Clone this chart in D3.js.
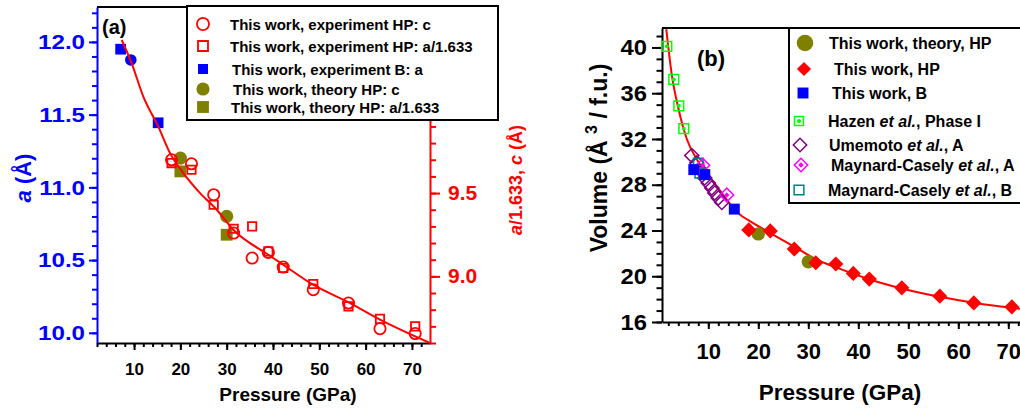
<!DOCTYPE html>
<html>
<head>
<meta charset="utf-8">
<script src="https://cdn.jsdelivr.net/npm/d3@7"></script>
<style>
  body { margin: 0; background: #fff; }
  svg { display: block; font-family: "Liberation Sans", Arial, sans-serif; font-weight: bold; }
</style>
</head>
<body>
<svg id="chart" width="1020" height="411"></svg>
<script>
// ---- panel (a): lattice parameters vs pressure ----
const hpPressure = [18.1, 22.4, 27.2, 31.5, 35.5, 39.0, 42.2, 48.7, 56.3, 63.1, 70.7];
const hpC = [9.70, 9.676, 9.49, 9.26, 9.11, 9.144, 9.056, 8.92, 8.84, 8.686, 8.657];
const hpA1633 = [9.68, 9.64, 9.43, 9.286, 9.30, 9.15, 9.05, 8.954, 8.82, 8.745, 8.70];
const bSquarePressure = [7.1, 15.2];
const bSquareA = [11.95, 11.444];
const bCirclePressure = [9.3];
const bCircleA = [11.876];
const theoryPressure = [20, 30];
const theoryC = [9.71, 9.36];
const theoryA1633 = [9.63, 9.25];
const fitAPressure = [7.33, 9.49, 12.0, 15.24, 17.77, 20.64, 24.25, 27.85, 31.44, 39.0, 42.2, 48.65, 56.64, 63.12, 73.9];
const fitAValue = [10.419, 10.279, 10.079, 9.899, 9.74, 9.62, 9.50, 9.40, 9.28, 9.13, 9.07, 8.95, 8.84, 8.74, 8.60];

const aLeftTicks = [10.0, 10.5, 11.0, 11.5, 12.0];
const aRightTicks = [9.0, 9.5, 10.0, 10.5];
const pressureTicks = [10, 20, 30, 40, 50, 60, 70];
const legendALabels = [
  "This work, experiment HP: c",
  "This work, experiment HP: a/1.633",
  "This work, experiment B: a",
  "This work, theory HP: c",
  "This work, theory HP: a/1.633"
];

// ---- panel (b): volume vs pressure ----
const hpVolume = [24.05, 23.96, 22.38, 21.18, 21.07, 20.25, 19.75, 18.99, 18.26, 17.67, 17.32];
const bPressure = [7.1, 9.3, 15.2];
const bVolume = [29.32, 28.88, 25.87];
const theoryVolume = [23.7, 21.27];
const hazenPressure = [1.7, 3.1, 4.1, 5.1];
const hazenVolume = [40.1, 37.2, 34.9, 32.9];
const umemotoPressure = [6.7, 7.7, 8.7, 9.3, 10.0, 10.7, 11.3, 12.0, 12.7];
const umemotoVolume = [30.55, 29.9, 29.17, 28.59, 28.15, 27.71, 27.27, 26.83, 26.45];
const mcAPressure = [8.9, 13.7];
const mcAVolume = [29.7, 27.1];
const mcBPressure = [8.0, 8.3];
const mcBVolume = [29.9, 29.0];
const fitBPressure = [1.6, 2.7, 4.0, 5.7, 8.0, 11.7, 16.3, 18.0, 22.3, 27.3, 31.7, 35.7, 42.3, 48.7, 56.3, 63.3, 73.1];
const fitBVolume = [41.6, 37.6, 34.7, 32.0, 30.0, 27.85, 25.4, 24.9, 23.8, 22.55, 21.45, 20.75, 19.72, 18.93, 18.2, 17.67, 17.12];

const volumeTicks = [16, 20, 24, 28, 32, 36, 40];
const legendBLabels = [
  ["This work, theory, HP"],
  ["This work, HP"],
  ["This work, B"],
  ["Hazen ", "et al.", ", Phase I"],
  ["Umemoto ", "et al.", ", A"],
  ["Maynard-Casely ", "et al.", ", A"],
  ["Maynard-Casely ", "et al.", ", B"]
];

const RED = "#ff0000", BLUE = "#0000ff", OLIVE = "#808000";

const svg = d3.select("#chart");
svg.append("rect").attr("width", 1020).attr("height", 411).attr("fill", "#fff");

const xA = d3.scaleLinear().domain([2, 73.9]).range([97, 430]);
const yAL = d3.scaleLinear().domain([9.93, 12.24]).range([343, 7]);
const yAR = d3.scaleLinear().domain([8.6, 10.617]).range([343, 7]);
const xB = d3.scaleLinear().domain([0.74, 73.14]).range([662, 1024]);
const yB = d3.scaleLinear().domain([16, 41.7]).range([322, 28]);

// the original tick digits are drawn a bit wider than Arial
const styleAxis = (g, color, size, sx = 1) => {
  g.attr("font-family", null).attr("font-size", size);
  g.select(".domain").attr("stroke", color).attr("stroke-width", 2);
  g.selectAll(".tick line").attr("stroke", color).attr("stroke-width", 2);
  g.selectAll(".tick text").attr("fill", color).attr("font-weight", "bold");
  if (sx !== 1) {
    g.selectAll(".tick text")
      .attr("x", function () { return +d3.select(this).attr("x") / sx; })
      .attr("transform", `scale(${sx},1)`);
  }
};

const minorAxis = (axis, values, size, color, tr) => {
  const g = svg.append("g").attr("transform", tr)
    .call(axis.tickValues(values).tickSize(size).tickSizeOuter(0).tickFormat(""));
  g.select(".domain").remove();
  g.selectAll(".tick line").attr("stroke", color).attr("stroke-width", 2);
};

const tenths = (lo, hi) => d3.range(lo, hi + 1).map(i => i / 10);

// ---- panel (a) axes ----
minorAxis(d3.axisBottom(xA), d3.range(2, 73, 2), 4, "#000", "translate(0,343)");
minorAxis(d3.axisLeft(yAL), tenths(100, 122), 5, BLUE, "translate(97,0)");
minorAxis(d3.axisRight(yAR), tenths(86, 106), 6, RED, "translate(430,0)");

svg.append("g").attr("transform", "translate(0,343)")
  .call(d3.axisBottom(xA).tickValues(pressureTicks).tickSize(7).tickPadding(13).tickSizeOuter(0))
  .call(g => styleAxis(g, "#000", 17));
svg.append("g").attr("transform", "translate(97,0)")
  .call(d3.axisLeft(yAL).tickValues(aLeftTicks).tickSize(8).tickPadding(4).tickSizeOuter(0).tickFormat(d3.format(".1f")))
  .call(g => styleAxis(g, BLUE, 21, 1.15));
svg.append("g").attr("transform", "translate(430,0)")
  .call(d3.axisRight(yAR).tickValues(aRightTicks).tickSize(10).tickPadding(8).tickSizeOuter(0).tickFormat(d3.format(".1f")))
  .call(g => styleAxis(g, RED, 20, 1.05));
svg.append("line").attr("x1", 97).attr("x2", 430).attr("y1", 7).attr("y2", 7)
  .attr("stroke", "#000").attr("stroke-width", 2);

// ---- markers ----
const sym = (type, size) => d3.symbol(type, size)();

const drawMark = (g, o) => {
  g.append("path")
    .attr("d", sym(o.type, o.size))
    .attr("transform", o.rot ? "rotate(45)" : null)
    .attr("fill", o.fill || "none")
    .attr("stroke", o.stroke || "none")
    .attr("stroke-width", o.sw || 0);
  if (o.dot) {
    g.append("path")
      .attr("d", sym(o.dotType || d3.symbolCircle, o.dot))
      .attr("transform", o.rot ? "rotate(45)" : null)
      .attr("fill", o.stroke);
  }
};

const scatter = (xs, ys, x, y, o) => {
  svg.append("g").selectAll("g").data(d3.zip(xs, ys)).join("g")
    .attr("transform", d => `translate(${x(d[0])},${y(d[1])})`)
    .each(function () { drawMark(d3.select(this), o); });
};

const mCircleA = { type: d3.symbolCircle, size: 100, stroke: RED, sw: 1.8 };
const mSquareA = { type: d3.symbolSquare, size: 70, stroke: RED, sw: 1.8 };
const mBlueSq = { type: d3.symbolSquare, size: 115, fill: BLUE };
const mBlueCi = { type: d3.symbolCircle, size: 105, fill: BLUE };
const mOliveCi = { type: d3.symbolCircle, size: 135, fill: OLIVE };
const mOliveSq = { type: d3.symbolSquare, size: 140, fill: OLIVE };

// ---- panel (a) data ----
scatter(theoryPressure, theoryC, xA, yAR, mOliveCi);
scatter(theoryPressure, theoryA1633, xA, yAR, mOliveSq);
scatter(bSquarePressure, bSquareA, xA, yAL, mBlueSq);
scatter(bCirclePressure, bCircleA, xA, yAL, mBlueCi);
scatter(hpPressure, hpC, xA, yAR, mCircleA);
scatter(hpPressure, hpA1633, xA, yAR, mSquareA);

svg.append("path")
  .datum(d3.zip(fitAPressure, fitAValue))
  .attr("fill", "none").attr("stroke", RED).attr("stroke-width", 2)
  .attr("d", d3.line().x(d => xA(d[0])).y(d => yAR(d[1])).curve(d3.curveMonotoneX));

// ---- panel (a) legend ----
svg.append("rect").attr("x", 187).attr("y", 6).attr("width", 311).attr("height", 114)
  .attr("fill", "#fff").attr("stroke", "#000").attr("stroke-width", 2);
const legendAMarks = [
  { type: d3.symbolCircle, size: 115, stroke: RED, sw: 1.8 },
  { type: d3.symbolSquare, size: 100, stroke: RED, sw: 1.8 },
  { type: d3.symbolSquare, size: 100, fill: BLUE },
  { type: d3.symbolCircle, size: 135, fill: OLIVE },
  { type: d3.symbolSquare, size: 140, fill: OLIVE }
];
const legendARows = [24, 46, 69, 89, 107];
const legendAText = [230, 230, 232, 233, 231];
legendALabels.forEach((label, i) => {
  const g = svg.append("g").attr("transform", `translate(203,${legendARows[i]})`);
  drawMark(g, legendAMarks[i]);
  svg.append("text").attr("x", legendAText[i]).attr("y", legendARows[i] + 5.5)
    .attr("font-size", 15).text(label);
});

// ---- panel (a) titles ----
svg.append("text").attr("x", 102).attr("y", 34).attr("font-size", 20).text("(a)");
svg.append("text").attr("x", 288).attr("y", 401).attr("font-size", 19)
  .attr("text-anchor", "middle").text("Pressure (GPa)");

const leftTitle = svg.append("text").attr("transform", "translate(31,178) rotate(-90)")
  .attr("text-anchor", "middle").attr("font-size", 22).attr("fill", BLUE);
leftTitle.append("tspan").attr("font-style", "italic").text("a");
leftTitle.append("tspan").text(" (Å)");

const rightTitle = svg.append("text").attr("transform", "translate(522,180) rotate(-90)")
  .attr("text-anchor", "middle").attr("font-size", 18).attr("fill", RED);
rightTitle.append("tspan").attr("font-style", "italic").text("a");
rightTitle.append("tspan").text("/1.633, ");
rightTitle.append("tspan").attr("font-style", "italic").text("c");
rightTitle.append("tspan").text(" (Å)");

// ---- panel (b) axes ----
minorAxis(d3.axisBottom(xB), d3.range(2, 73, 2), 4, "#000", "translate(0,322)");
minorAxis(d3.axisLeft(yB), d3.range(16, 42), 5.5, "#000", "translate(662,0)");

svg.append("g").attr("transform", "translate(0,322)")
  .call(d3.axisBottom(xB).tickValues(pressureTicks).tickSize(7).tickPadding(14).tickSizeOuter(0))
  .call(g => styleAxis(g, "#000", 22));
svg.append("g").attr("transform", "translate(662,0)")
  .call(d3.axisLeft(yB).tickValues(volumeTicks).tickSize(10).tickPadding(5).tickSizeOuter(0))
  .call(g => styleAxis(g, "#000", 22, 1.08));
svg.append("line").attr("x1", 662).attr("x2", 1024).attr("y1", 28).attr("y2", 28)
  .attr("stroke", "#000").attr("stroke-width", 2);

const mHazen = { type: d3.symbolSquare, size: 95, stroke: "#00ff00", sw: 1.5, dot: 12 };
const mUmemoto = { type: d3.symbolSquare, size: 100, stroke: "#800080", sw: 1.5, rot: true };
const mMcA = { type: d3.symbolSquare, size: 95, stroke: "#ff00ff", sw: 1.5, rot: true, dot: 14, dotType: d3.symbolSquare };
const mMcB = { type: d3.symbolSquare, size: 90, stroke: "#008080", sw: 1.5 };
const mHp = { type: d3.symbolSquare, size: 115, fill: RED, rot: true };
const mBvol = { type: d3.symbolSquare, size: 120, fill: BLUE };
const mTheoryV = { type: d3.symbolCircle, size: 140, fill: OLIVE };

svg.append("path")
  .datum(d3.zip(fitBPressure, fitBVolume))
  .attr("fill", "none").attr("stroke", RED).attr("stroke-width", 2)
  .attr("d", d3.line().x(d => xB(d[0])).y(d => yB(d[1])).curve(d3.curveMonotoneX));

scatter(hazenPressure, hazenVolume, xB, yB, mHazen);
scatter(umemotoPressure, umemotoVolume, xB, yB, mUmemoto);
scatter(mcBPressure, mcBVolume, xB, yB, mMcB);
scatter(mcAPressure, mcAVolume, xB, yB, mMcA);
scatter(bPressure, bVolume, xB, yB, mBvol);
scatter(theoryPressure, theoryVolume, xB, yB, mTheoryV);
scatter(hpPressure, hpVolume, xB, yB, mHp);

// ---- panel (b) legend ----
svg.append("rect").attr("x", 789).attr("y", 28).attr("width", 245).attr("height", 175)
  .attr("fill", "#fff").attr("stroke", "#000").attr("stroke-width", 2);
const legendBMarks = [
  { type: d3.symbolCircle, size: 215, fill: OLIVE },
  { type: d3.symbolSquare, size: 100, fill: RED, rot: true },
  { type: d3.symbolSquare, size: 120, fill: BLUE },
  { type: d3.symbolSquare, size: 80, stroke: "#00ff00", sw: 1.5, dot: 14 },
  { type: d3.symbolSquare, size: 90, stroke: "#800080", sw: 1.5, rot: true },
  { type: d3.symbolSquare, size: 90, stroke: "#ff00ff", sw: 1.5, rot: true, dot: 16, dotType: d3.symbolSquare },
  { type: d3.symbolSquare, size: 95, stroke: "#008080", sw: 1.5 }
];
const legendBRows = [43, 69, 93, 121, 145, 165, 190];
const legendBMarkX = [805, 804, 803, 799, 800, 801, 799];
const legendBText = [829, 834, 832, 828, 829, 831, 828];
legendBLabels.forEach((parts, i) => {
  const g = svg.append("g").attr("transform", `translate(${legendBMarkX[i]},${legendBRows[i]})`);
  drawMark(g, legendBMarks[i]);
  const t = svg.append("text").attr("x", legendBText[i]).attr("y", legendBRows[i] + 6)
    .attr("font-size", 16);
  parts.forEach((p, j) => t.append("tspan").attr("font-style", j === 1 ? "italic" : null).text(p));
});

// ---- panel (b) titles ----
svg.append("text").attr("x", 697).attr("y", 66).attr("font-size", 22).text("(b)");
svg.append("text").attr("x", 840).attr("y", 400).attr("font-size", 22.5)
  .attr("text-anchor", "middle").text("Pressure (GPa)");

const volTitle = svg.append("text").attr("transform", "translate(607,158) rotate(-90)")
  .attr("text-anchor", "middle").attr("font-size", 23).attr("fill", "#000");
volTitle.append("tspan").text("Volume  (Å ");
volTitle.append("tspan").attr("dy", -10).attr("font-size", 16).text("3");
volTitle.append("tspan").attr("dy", 10).text(" / f.u.)");
</script>
</body>
</html>
